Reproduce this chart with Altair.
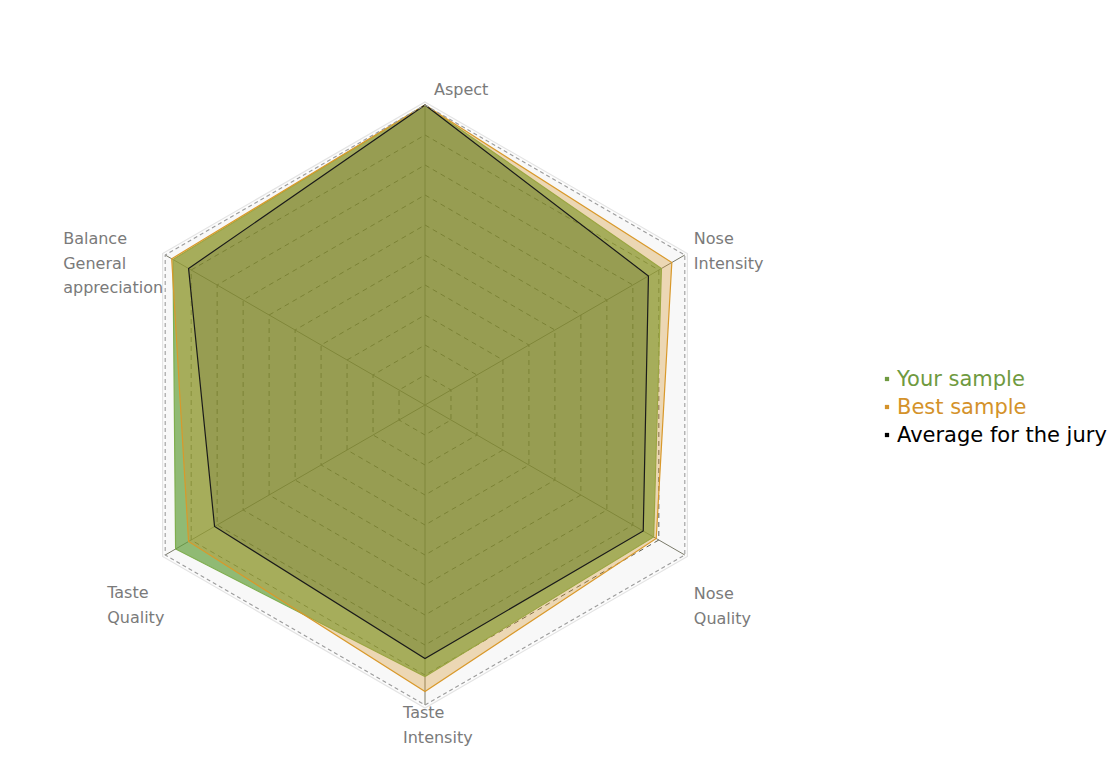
import math
import altair as alt
import pandas as pd

# ---------------- data ----------------
categories = ["Aspect", "Nose\nIntensity", "Nose\nQuality", "Taste\nIntensity",
              "Taste\nQuality", "Balance\nGeneral\nappreciation"]
series_names = ["Your sample", "Best sample", "Average for the jury"]
your_sample = [10.0, 9.1, 8.8, 9.05, 9.6, 9.7]
best_sample = [10.0, 9.5, 8.9, 9.55, 9.1, 9.75]
jury_average = [10.0, 8.6, 8.4, 8.45, 8.1, 9.1]
grid_levels = list(range(1, 10))
max_level = 10

# ---------------- layout / style ----------------
W, H, S = 1100, 764, 30.0          # plot size, pixels per unit
CX, CY = 425, 405                  # centre in page pixels
XMIN = -(CX - 8) / S
XMAX = XMIN + W / S
YMAX = (CY - 8) / S
YMIN = YMAX - H / S

label_offsets = [(9, -10), (9, -11), (9, 44), (-22, 13), (-58, 43), (-102, -11)]
series_fill = ["#64a03c", "#d6962a", "#000000"]
series_fill_op = [0.70, 0.33, 0.09]
series_stroke = ["#7fae4e", "#d9992b", "#1a1a1a"]
legend_colors = ["#6f9a40", "#d4922a", "#000000"]

n = len(categories)


def ang(i):
    return math.radians(90 - 360.0 / n * i)


def px2x(px):
    return XMIN + (px - 8) / S


def py2y(py):
    return YMAX - (py - 8) / S


xs = alt.Scale(domain=[XMIN, XMAX], nice=False, zero=False)
ys = alt.Scale(domain=[YMIN, YMAX], nice=False, zero=False)
X = alt.X("x:Q", scale=xs, axis=None)
Y = alt.Y("y:Q", scale=ys, axis=None)


def poly_df(values, key):
    rows = []
    for i, v in enumerate(values):
        rows.append({"x": v * math.cos(ang(i)), "y": v * math.sin(ang(i)), "idx": i, "key": key})
    return pd.DataFrame(rows)


def enc(ch):
    return ch.encode(x=X, y=Y, order=alt.Order("idx:Q"))


layers = []

# outer frame: faint shadow outline + light fill
shadow = enc(alt.Chart(poly_df([max_level * 1.01] * n, "shadow")).mark_line(
    interpolate="linear-closed", fill="#fcfcfc", stroke="#e4e4e4", strokeWidth=1.2))
frame = enc(alt.Chart(poly_df([max_level] * n, "frame")).mark_line(
    interpolate="linear-closed", fill="#f8f8f8", stroke="#f8f8f8", strokeWidth=0))
layers += [shadow, frame]

# spokes
spoke_df = pd.DataFrame([
    {"x": 0.0, "y": 0.0, "x2": max_level * math.cos(ang(i)), "y2": max_level * math.sin(ang(i))}
    for i in range(n)
])
spokes = alt.Chart(spoke_df).mark_rule(color="#7a7a6a", strokeWidth=1).encode(
    x=X, y=Y, x2="x2:Q", y2="y2:Q")
layers.append(spokes)

# inner grid rings
ring_rows = []
for lv in grid_levels:
    for i in range(n):
        ring_rows.append({"x": lv * math.cos(ang(i)), "y": lv * math.sin(ang(i)), "idx": i, "lv": lv})
rings = alt.Chart(pd.DataFrame(ring_rows)).mark_line(
    interpolate="linear-closed", stroke="#5e5e50", strokeWidth=1, strokeDash=[5, 4]).encode(
    x=X, y=Y, order=alt.Order("idx:Q"), detail="lv:N")
layers.append(rings)

# series polygons
for k, vals in enumerate([your_sample, best_sample, jury_average]):
    layers.append(enc(alt.Chart(poly_df(vals, series_names[k])).mark_line(
        interpolate="linear-closed", fill=series_fill[k], fillOpacity=series_fill_op[k],
        stroke=series_stroke[k], strokeWidth=1.2)))

# outer dashed ring on top
outer = enc(alt.Chart(poly_df([max_level] * n, "outer")).mark_line(
    interpolate="linear-closed", stroke="#9c9c9c", strokeWidth=1.1, strokeDash=[4, 3]))
layers.append(outer)

# axis labels
lab_rows = []
for i, c in enumerate(categories):
    vx = CX + 300 * math.cos(ang(i))
    vy = CY - 300 * math.sin(ang(i))
    lab_rows.append({"x": px2x(vx + label_offsets[i][0]), "y": py2y(vy + label_offsets[i][1]), "t": c})
labels = alt.Chart(pd.DataFrame(lab_rows)).mark_text(
    align="left", baseline="alphabetic", font="DejaVu Sans", fontSize=16, color="#7a7a7a",
    lineBreak="\n", lineHeight=24.5).encode(x=X, y=Y, text="t:N")
layers.append(labels)

# legend
leg_rows = []
for k, nm in enumerate(series_names):
    leg_rows.append({"x": px2x(887), "tx": px2x(897), "y": py2y(379 + 28 * k),
                     "ty": py2y(379 + 28 * k + 7), "t": nm, "c": legend_colors[k]})
leg_df = pd.DataFrame(leg_rows)
leg_sym = alt.Chart(leg_df).mark_point(shape="square", filled=True, size=18, opacity=1).encode(
    x=X, y=Y, color=alt.Color("c:N", scale=None))
leg_txt = alt.Chart(leg_df).mark_text(
    align="left", baseline="alphabetic", font="DejaVu Sans", fontSize=21).encode(
    x=alt.X("tx:Q", scale=xs, axis=None), y=alt.Y("ty:Q", scale=ys, axis=None),
    text="t:N", color=alt.Color("c:N", scale=None))
layers += [leg_sym, leg_txt]

chart = alt.layer(*layers).properties(
    width=W, height=H, autosize=alt.AutoSizeParams(type="none"), padding=0
).configure_view(stroke=None)

chart.save("out.html", embed_options={"renderer": "svg", "actions": False})
